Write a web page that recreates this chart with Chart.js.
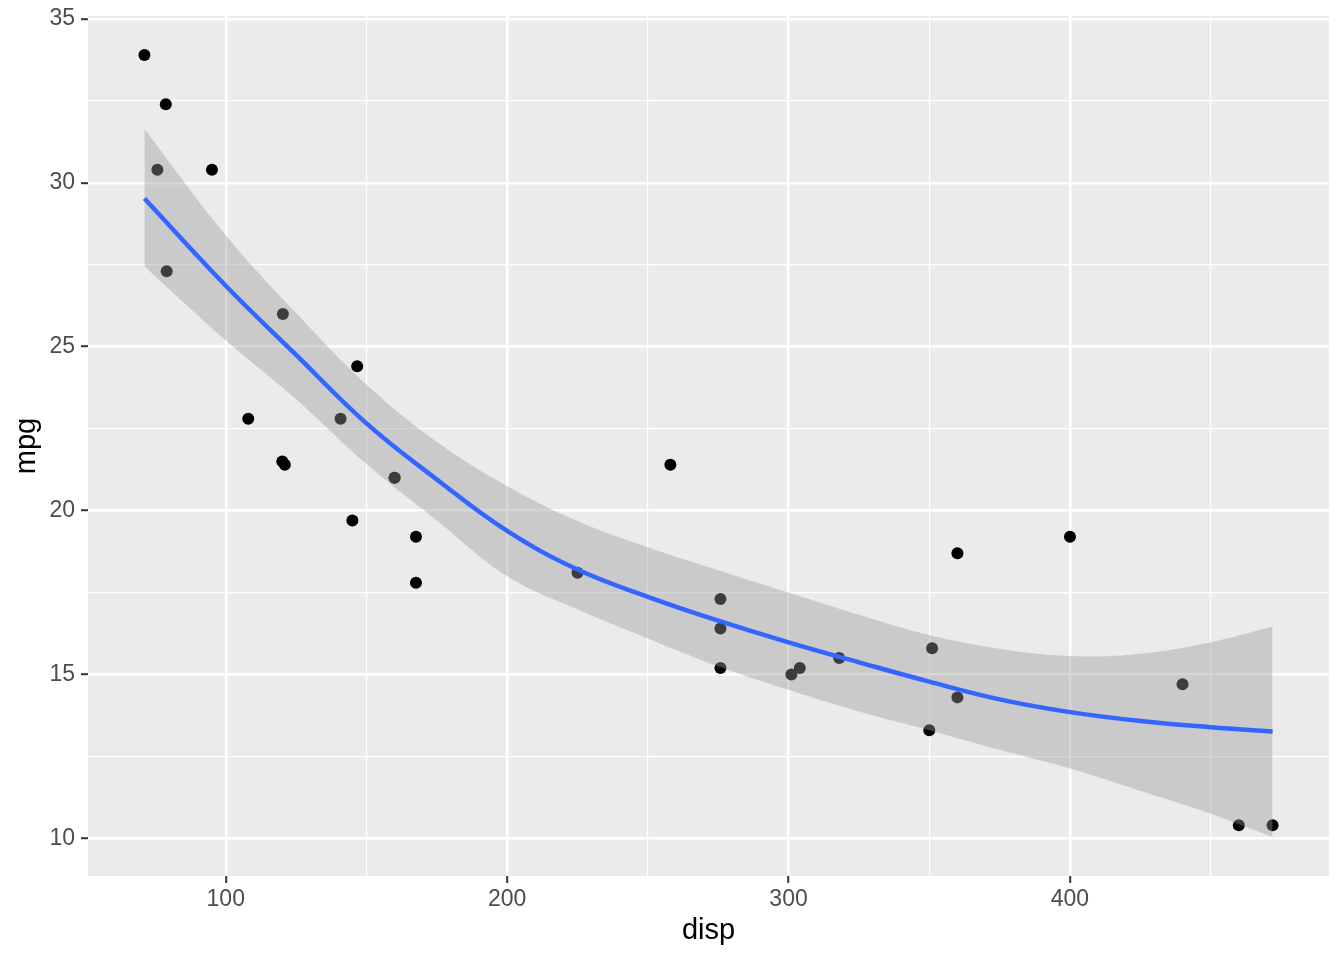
<!DOCTYPE html>
<html>
<head>
<meta charset="utf-8">
<script src="https://cdn.jsdelivr.net/npm/chart.js@4.4.1/dist/chart.umd.min.js"></script>
<style>
  html, body { margin: 0; padding: 0; background: #ffffff; }
  #wrap { width: 1344px; height: 960px; }
</style>
</head>
<body>
<div id="wrap"><canvas id="plot" width="1344" height="960"></canvas></div>
<script>
// mtcars: disp vs mpg
const dispVals = [160, 160, 108, 258, 360, 225, 360, 146.7, 140.8, 167.6, 167.6, 275.8, 275.8, 275.8,
  472, 460, 440, 78.7, 75.7, 71.1, 120.1, 318, 304, 350, 400, 79, 120.3, 95.1, 351, 145, 301, 121];
const mpgVals = [21.0, 21.0, 22.8, 21.4, 18.7, 18.1, 14.3, 24.4, 22.8, 19.2, 17.8, 16.4, 17.3, 15.2,
  10.4, 10.4, 14.7, 32.4, 30.4, 33.9, 21.5, 15.5, 15.2, 13.3, 19.2, 27.3, 26.0, 30.4, 15.8, 19.7, 15.0, 21.4];

// loess curve and confidence band
const smoothX = [71.1, 100, 125, 150, 175, 200, 225, 250, 275, 300, 325, 350, 375, 400, 425, 450, 472];
const smoothFit = [29.52, 26.86, 24.75, 22.66, 20.95, 19.38, 18.2, 17.37, 16.64, 15.98, 15.37, 14.78, 14.24, 13.85, 13.58, 13.39, 13.26];
const smoothUpper = [31.64, 28.4, 26.03, 23.85, 22.1, 20.75, 19.68, 18.88, 18.18, 17.5, 16.82, 16.2, 15.78, 15.56, 15.63, 15.98, 16.46];
const smoothLower = [27.45, 25.2, 23.4, 21.42, 19.7, 18.0, 16.98, 16.1, 15.25, 14.53, 13.87, 13.3, 12.7, 12.13, 11.45, 10.75, 10.04];

const xMajor = [100, 200, 300, 400];
const xMinor = [150, 250, 350, 450];
const yMajor = [10, 15, 20, 25, 30, 35];
const yMinor = [12.5, 17.5, 22.5, 27.5, 32.5];

const FONT = "'Liberation Sans', Arial, Helvetica, sans-serif";

function toPoints(xs, ys) {
  return xs.map((x, i) => ({ x: x, y: ys[i] }));
}

// grey panel behind the grid
const panelBg = {
  id: "panelBg",
  beforeDraw(chart) {
    const a = chart.chartArea;
    const ctx = chart.ctx;
    ctx.save();
    ctx.fillStyle = "#EBEBEB";
    ctx.fillRect(a.left, a.top, a.right - a.left, a.bottom - a.top);
    ctx.restore();
  }
};

function gridFor(major) {
  return {
    color: "#FFFFFF",
    lineWidth: (c) => major.includes(c.tick && c.tick.value) ? 2.4 : 1.2,
    drawTicks: true,
    tickLength: 7,
    tickWidth: 2,
    tickColor: (c) => major.includes(c.tick && c.tick.value) ? "#333333" : "rgba(0,0,0,0)"
  };
}

new Chart(document.getElementById("plot").getContext("2d"), {
  type: "scatter",
  data: {
    datasets: [
      {
        label: "fit",
        data: toPoints(smoothX, smoothFit),
        showLine: true,
        borderColor: "#3366FF",
        borderWidth: 4.5,
        pointRadius: 0,
        fill: false,
        tension: 0.4,
        order: 1
      },
      {
        label: "upper",
        data: toPoints(smoothX, smoothUpper),
        showLine: true,
        borderWidth: 0,
        borderColor: "rgba(0,0,0,0)",
        backgroundColor: "rgba(153,153,153,0.4)",
        pointRadius: 0,
        fill: "+1",
        tension: 0.4,
        order: 2
      },
      {
        label: "lower",
        data: toPoints(smoothX, smoothLower),
        showLine: true,
        borderWidth: 0,
        borderColor: "rgba(0,0,0,0)",
        pointRadius: 0,
        fill: false,
        tension: 0.4,
        order: 2
      },
      {
        label: "mpg",
        data: toPoints(dispVals, mpgVals),
        pointRadius: 6,
        pointBackgroundColor: "#000000",
        pointBorderWidth: 0,
        order: 3
      }
    ]
  },
  options: {
    responsive: false,
    animation: false,
    devicePixelRatio: 1,
    layout: { padding: { top: 16, right: 15, left: 0, bottom: 0 } },
    plugins: {
      legend: { display: false },
      tooltip: { enabled: false }
    },
    scales: {
      x: {
        type: "linear",
        min: 51.05,
        max: 492.05,
        afterBuildTicks: (s) => { s.ticks = xMajor.concat(xMinor).sort((a, b) => a - b).map(v => ({ value: v })); },
        afterFit: (s) => { s.height = 84; s.paddingLeft = 0; s.paddingRight = 0; },
        border: { display: false },
        grid: gridFor(xMajor),
        ticks: {
          autoSkip: false,
          maxRotation: 0,
          padding: 3,
          color: "#4D4D4D",
          font: { family: FONT, size: 23 },
          callback: (v) => xMajor.includes(v) ? String(v) : ""
        },
        title: {
          display: true,
          text: "disp",
          color: "#000000",
          font: { family: FONT, size: 29 },
          padding: { top: 0, bottom: 12 }
        }
      },
      y: {
        type: "linear",
        min: 8.85,
        max: 35.09,
        afterBuildTicks: (s) => { s.ticks = yMajor.concat(yMinor).sort((a, b) => a - b).map(v => ({ value: v })); },
        afterFit: (s) => { s.width = 88; s.paddingTop = 0; s.paddingBottom = 0; },
        border: { display: false },
        grid: gridFor(yMajor),
        ticks: {
          autoSkip: false,
          padding: 6,
          color: "#4D4D4D",
          font: { family: FONT, size: 23 },
          callback: (v) => yMajor.includes(v) ? String(v) : ""
        },
        title: {
          display: true,
          text: "mpg",
          color: "#000000",
          font: { family: FONT, size: 29 },
          padding: { top: 10, bottom: 0 }
        }
      }
    }
  },
  plugins: [panelBg]
});
</script>
</body>
</html>
